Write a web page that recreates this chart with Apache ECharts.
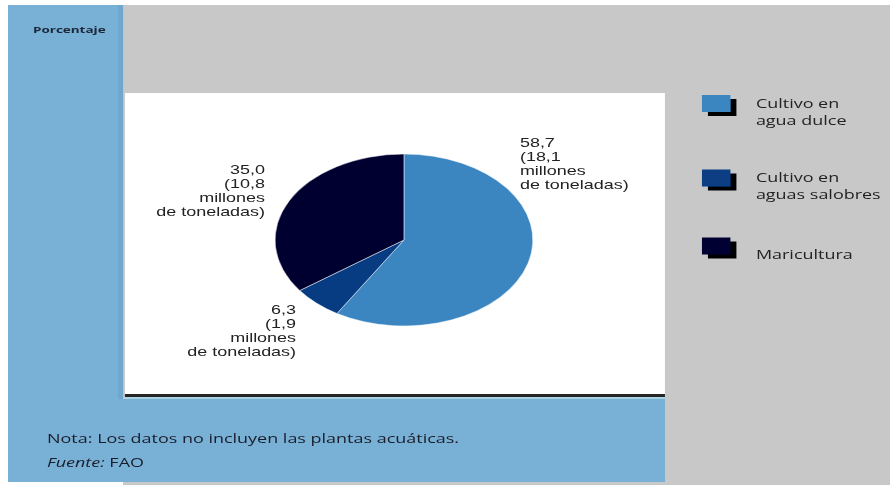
<!DOCTYPE html>
<html>
<head>
<meta charset="utf-8">
<script src="https://cdn.jsdelivr.net/npm/echarts@6/dist/echarts.min.js"></script>
<style>
html,body{margin:0;padding:0;background:#fff;overflow:hidden;width:890px;height:485px;}
#chart{position:absolute;left:0;top:0;width:594px;height:485px;transform:scaleX(1.4983);transform-origin:0 0;}
</style>
</head>
<body>
<div id="chart"></div>
<script>
// ---- data ----
const categories = ['Cultivo en\nagua dulce', 'Cultivo en\naguas salobres', 'Maricultura'];
const percentages = [58.7, 6.3, 35.0];
const tonnesMillions = [18.1, 1.9, 10.8];
const colors = ['#3b86c1', '#083c82', '#000030'];
const noteText = 'Nota: Los datos no incluyen las plantas acuáticas.';
const sourceLabel = 'Fuente:';
const sourceText = 'FAO';
const yAxisTitle = 'Porcentaje';

const fmt = v => v.toFixed(1).replace('.', ',');

// label placement (style, not data)
const labelPos = [
  {x: 347, y: 164, align: 'left', verticalAlign: 'middle'},
  {x: 197.6, y: 331, align: 'right', verticalAlign: 'middle'},
  {x: 176.9, y: 191, align: 'right', verticalAlign: 'middle'}
];
const legendTops = [94.5, 169, 237.5];

const chart = echarts.init(document.getElementById('chart'), null, {renderer: 'svg', width: 594, height: 485});

const FONT = '"Open Sans", "DejaVu Sans", sans-serif';
const LFONT = '"Liberation Sans", Arial, sans-serif';
// legend icon: square in the upper part of a taller box (invisible point sets the box)
const ICON = 'path://M0,0L19,0L19,17L0,17Z M0,33L0.01,33';

chart.setOption({
  animation: false,
  backgroundColor: '#ffffff',
  graphic: [
    {type: 'rect', z: -10, shape: {x: 82.1, y: 5, width: 512, height: 480}, style: {fill: '#c8c8c8'}},
    {type: 'rect', z: -9, shape: {x: 5.34, y: 5, width: 76.8, height: 477}, style: {fill: '#79b0d5'}},
    {type: 'rect', z: -9, shape: {x: 78.8, y: 5, width: 3.3, height: 477}, style: {fill: '#6ea7cf'}},
    {type: 'rect', z: -9, shape: {x: 5.34, y: 399, width: 438.5, height: 83}, style: {fill: '#79b0d5'}},
    {type: 'rect', z: -8, shape: {x: 83.4, y: 93, width: 360.4, height: 301}, style: {fill: '#ffffff'}},
    {type: 'rect', z: -8, shape: {x: 83.4, y: 394, width: 360.4, height: 3}, style: {fill: '#262626'}},
    {type: 'rect', z: -8, shape: {x: 83.4, y: 397, width: 360.4, height: 2}, style: {fill: '#a8d3e2'}},
    {type: 'text', left: 22, top: 25, style: {text: yAxisTitle, font: 'bold 9px ' + FONT, fill: '#1b2637'}},
    {type: 'text', left: 31.4, top: 432, style: {text: noteText, font: '12px ' + FONT, fill: '#1a1d2a'}},
    {type: 'text', left: 31.4, top: 456, style: {
      text: '{i|' + sourceLabel + '} ' + sourceText,
      font: '12px ' + FONT, fill: '#1a1d2a',
      rich: {i: {fontStyle: 'italic', fontSize: 12, fontFamily: FONT, fill: '#1a1d2a'}}
    }}
  ],
  color: colors,
  legend: categories.map((c, i) => ({
    orient: 'vertical',
    left: 468.5,
    top: legendTops[i],
    padding: 0,
    itemWidth: 19,
    itemHeight: 33,
    icon: ICON,
    data: [c],
    itemStyle: {borderWidth: 0, shadowColor: '#000000', shadowBlur: 0, shadowOffsetX: 4, shadowOffsetY: 4},
    textStyle: {fontSize: 12, lineHeight: 17, fontFamily: FONT, color: '#222222', padding: [0, 0, 0, 12]},
    selectedMode: false
  })),
  series: [{
    type: 'pie',
    center: [269.6, 240],
    radius: 86,
    startAngle: 90,
    clockwise: true,
    silent: true,
    itemStyle: {borderColor: '#ffffff', borderWidth: 0.4},
    label: {
      show: true,
      position: 'outside',
      fontSize: 12,
      lineHeight: 14,
      fontFamily: LFONT,
      color: '#222222',
      formatter: p => fmt(percentages[p.dataIndex]) + '\n(' + fmt(tonnesMillions[p.dataIndex]) + '\nmillones\nde toneladas)'
    },
    labelLine: {show: false},
    labelLayout: p => labelPos[p.dataIndex],
    data: categories.map((c, i) => ({name: c, value: percentages[i]}))
  }]
});
</script>
</body>
</html>
